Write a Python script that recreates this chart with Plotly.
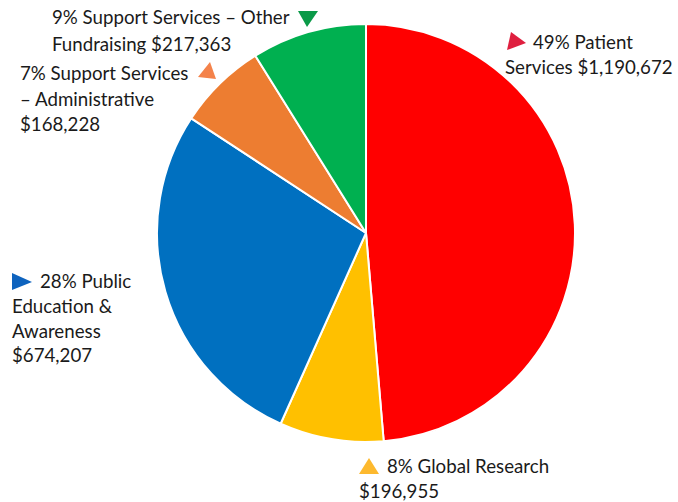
import plotly.graph_objects as go

W, H = 678, 502

categories = ["Patient Services", "Global Research", "Public Education & Awareness",
              "Support Services – Administrative", "Support Services – Other Fundraising"]
values = [1190672, 196955, 674207, 168228, 217363]
colors = ["#FF0000", "#FFC000", "#0070C0", "#ED7D31", "#00B050"]

label_lines = [
    ("9% Support Services – Other", 50, 17),
    ("Fundraising $217,363", 50, 44),
    ("7% Support Services", 18, 73),
    ("– Administrative", 18, 99),
    ("$168,228", 18, 124),
    ("49% Patient", 531, 42),
    ("Services $1,190,672", 503, 67),
    ("28% Public", 38, 281),
    ("Education &", 10, 306),
    ("Awareness", 10, 331),
    ("$674,207", 10, 355),
    ("8% Global Research", 385, 466),
    ("$196,955", 357, 491),
]

triangles = [
    ([(298, 11), (318, 11), (307, 27)], "#0A9A48"),
    ([(198, 77), (216, 79), (210, 62)], "#F4824A"),
    ([(507, 50), (526, 43), (511, 32)], "#DF1F3F"),
    ([(12, 273), (12, 290), (32, 282)], "#0E63BE"),
    ([(359, 474), (379, 474), (369, 458)], "#FDB92E"),
]


def px(x, y):
    return x / W, 1 - y / H


cx, cy, r = 366, 233, 209
x0, y0 = px(cx - r, cy + r)
x1, y1 = px(cx + r, cy - r)

fig = go.Figure(go.Pie(
    labels=categories, values=values, sort=False, direction="clockwise", rotation=0,
    marker=dict(colors=colors, line=dict(color="white", width=2)),
    textinfo="none", hoverinfo="label+value+percent",
    domain=dict(x=[x0, x1], y=[y0, y1]),
))

for text, x, y in label_lines:
    ax, ay = px(x, y)
    fig.add_annotation(text=text, x=ax, y=ay, xref="paper", yref="paper",
                       xanchor="left", yanchor="middle", showarrow=False,
                       font=dict(family="Lato", size=18.7, color="#1a1a1a"))

for pts, col in triangles:
    path = "M " + " L ".join(f"{px(a, b)[0]} {px(a, b)[1]}" for a, b in pts) + " Z"
    fig.add_shape(type="path", path=path, xref="paper", yref="paper",
                  fillcolor=col, line=dict(width=0))

fig.update_layout(width=W, height=H, margin=dict(l=0, r=0, t=0, b=0),
                  showlegend=False, paper_bgcolor="white", plot_bgcolor="white")

fig.write_html("out.html", config={"displayModeBar": False},
               post_script="document.body.style.margin='0';document.body.style.overflow='hidden';")
